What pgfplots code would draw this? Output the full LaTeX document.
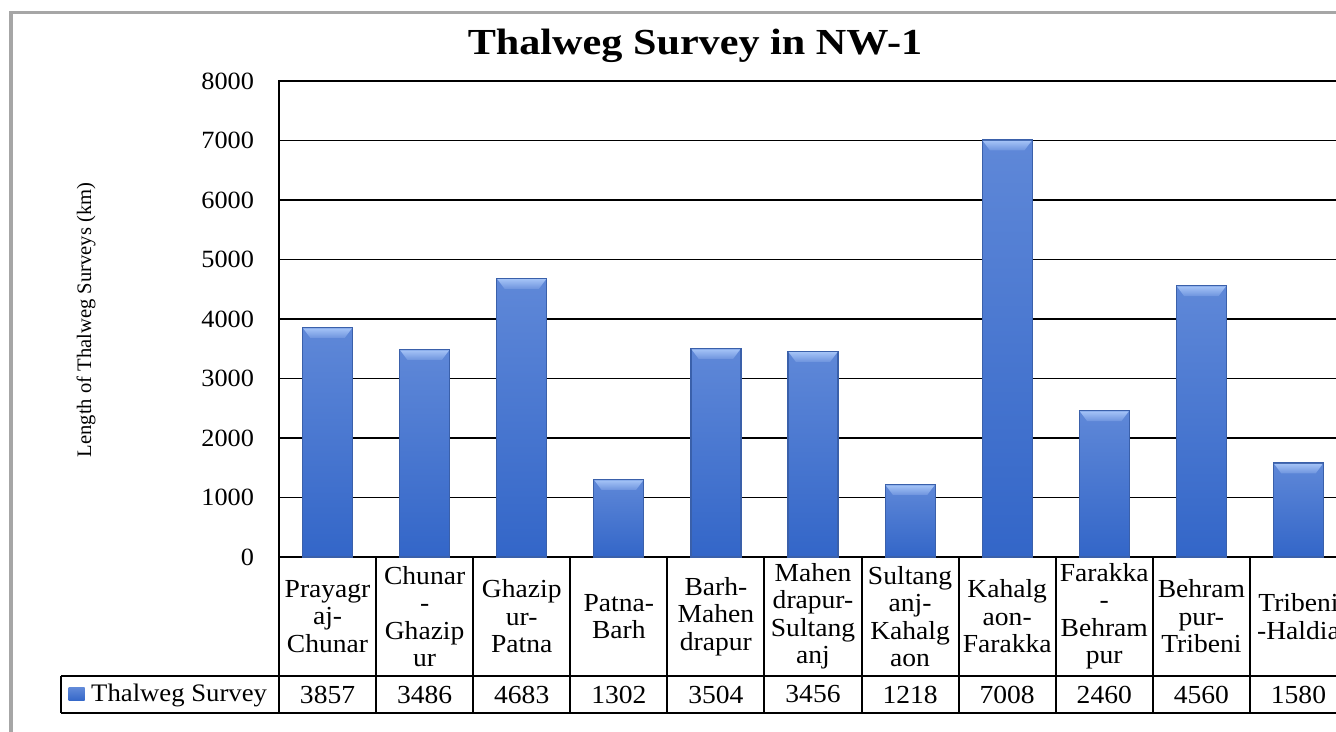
\documentclass[border=0pt]{standalone}
\usepackage{pgfplots}
\pgfplotsset{compat=1.18}
\usepackage{pgfplotstable}
\usepackage{fontspec}
\setmainfont{Liberation Serif}
\newfontfamily\tnrw[FakeStretch=1.06]{Liberation Serif}
\newfontfamily\titlefont[FakeStretch=1.15]{Liberation Serif}
\definecolor{barT}{HTML}{5F88D8}
\definecolor{barB}{HTML}{3366C8}
\definecolor{barE}{HTML}{3A60AA}
\definecolor{bevT}{HTML}{A3C2F6}
\definecolor{bevB}{HTML}{6E94DE}
\definecolor{frameG}{HTML}{A6A6A6}

\pgfdeclareplotmark{bevel}{%
  \shade[top color=bevT, bottom color=bevB, draw=none]
    (-12.2pt,-0.4pt) -- (12.2pt,-0.4pt) -- (8.6pt,-5.2pt) -- (-8.6pt,-5.2pt) -- cycle;}

\pgfplotstableread{
x y
0 3857
1 3486
2 4683
3 1302
4 3504
5 3456
6 1218
7 7008
8 2460
9 4560
10 1580
}\surveydata

\pgfplotsset{barsty/.style={ybar, bar width=25pt, draw=barE, line width=0.6pt,
  top color=barT, bottom color=barB, mark=bevel, mark options={solid},
  restrict x to domain=#1:#1}}

\begin{document}
\begin{tikzpicture}
\begin{scope}
\clip (0,0) rectangle (668pt,366pt);
\begin{axis}[
  at={(139.5pt,87.5pt)}, anchor=south west,
  scale only axis, width=534pt, height=238pt,
  xmin=-0.5, xmax=10.5, ymin=0, ymax=8000,
  clip=false,
  ytick={0,1000,...,8000},
  xtick={0,1,...,10},
  xticklabels={
    {Prayagr\\aj-\\Chunar},
    {Chunar\\-\\Ghazip\\ur},
    {Ghazip\\ur-\\Patna},
    {Patna-\\Barh},
    {Barh-\\Mahen\\drapur},
    {Mahen\\drapur-\\Sultang\\anj},
    {Sultang\\anj-\\Kahalg\\aon},
    {Kahalg\\aon-\\Farakka},
    {Farakka\\-\\Behram\\pur},
    {Behram\\pur-\\Tribeni},
    {Tribeni\\-Haldia}},
  major tick length=0pt,
  ymajorgrids,
  grid style={black, line width=0.9pt},
  axis line style={black, line width=1pt},
  /pgf/number format/assume math mode=true,
  /pgf/number format/1000 sep={},
  yticklabel style={font=\tnrw\fontsize{12.4}{14}\selectfont, xshift=-9pt},
  xticklabel style={font=\tnrw\fontsize{13}{13.75}\selectfont, text width=48pt,
    align=center, anchor=center, yshift=-29.75pt, inner sep=0pt},
  legend style={at={(axis cs:-2.745,-2311)}, anchor=west, draw=none, fill=none,
    font=\tnrw\fontsize{12.6}{14}\selectfont, inner xsep=3.6pt, inner ysep=0pt},
]
\addplot[barsty=0,
  legend image code/.code={\shade[top color=barT, bottom color=barB, draw=none]
    (0pt,-3.25pt) rectangle (8pt,3.25pt); \path (9pt,0pt);}]
  table[x=x, y=y]{\surveydata};
\addlegendentry{Thalweg Survey}
\pgfplotsinvokeforeach{1,...,10}{
  \addplot[barsty=#1, forget plot] table[x=x, y=y]{\surveydata};
}
\addplot[draw=none, forget plot, point meta=explicit,
  nodes near coords={\pgfmathprintnumber[1000 sep={},fixed]{\pgfplotspointmeta}},
  every node near coord/.append style={anchor=center, inner sep=0pt,
    font=\tnrw\fontsize{13}{14}\selectfont}]
  table[x=x, y expr=-2311, meta=y]{\surveydata};
% data table grid
\draw[black, line width=1pt] (axis cs:-2.745,-2000) -- (axis cs:11,-2000);
\draw[black, line width=1pt] (axis cs:-2.745,-2622) -- (axis cs:11,-2622);
\draw[black, line width=1pt] (axis cs:-2.745,-2000) -- (axis cs:-2.745,-2622);
\pgfplotsinvokeforeach{-0.5,0.5,1.5,2.5,3.5,4.5,5.5,6.5,7.5,8.5,9.5,10.5}{
  \draw[black, line width=1pt] (axis cs:#1,0) -- (axis cs:#1,-2622);
}
\end{axis}
\node[rotate=90, font=\fontsize{10.3}{12}\selectfont] at (43pt,206pt)
  {Length of Thalweg Surveys (km)};
\node[anchor=base, font=\titlefont\bfseries\fontsize{18.35}{22}\selectfont]
  at (347.5pt,338.85pt) {Thalweg Survey in NW-1};
\draw[frameG, line width=1.7pt] (5.4pt,-10pt) -- (5.4pt,359.75pt) -- (700pt,359.75pt);
\end{scope}
\pgfresetboundingbox
\useasboundingbox (0,0) rectangle (668pt,366pt);
\end{tikzpicture}
\end{document}
